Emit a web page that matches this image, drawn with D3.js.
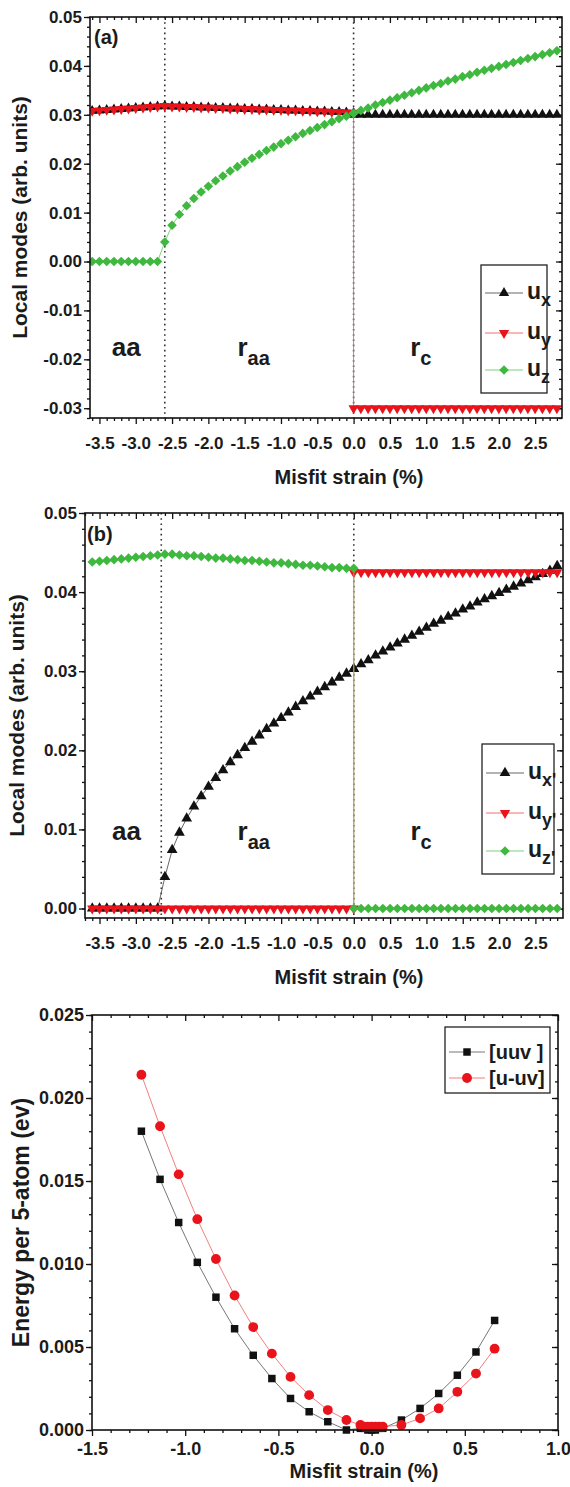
<!DOCTYPE html>
<html>
<head>
<meta charset="utf-8">
<script src="https://cdn.jsdelivr.net/npm/d3@7/dist/d3.min.js"></script>
<style>
  body { margin: 0; background: #fff; }
  svg text { font-family: "Liberation Sans", Arial, sans-serif; font-weight: bold; fill: #1b1b1b; }
</style>
</head>
<body>
<svg id="chart" width="570" height="1487"></svg>
<script>

// misfit strain (%) for panels (a) and (b); 0.0 is listed twice, once per phase branch
var strain = [-3.6, -3.5, -3.4, -3.3, -3.2, -3.1, -3.0, -2.9, -2.8, -2.7, -2.6, -2.5, -2.4,
	-2.3, -2.2, -2.1, -2.0, -1.9, -1.8, -1.7, -1.6, -1.5, -1.4, -1.3, -1.2, -1.1, -1.0, -0.9,
	-0.8, -0.7, -0.6, -0.5, -0.4, -0.3, -0.2, -0.1, 0.0,
	0.0, 0.1, 0.2, 0.3, 0.4, 0.5, 0.6, 0.7, 0.8, 0.9, 1.0, 1.1, 1.2, 1.3, 1.4, 1.5, 1.6, 1.7,
	1.8, 1.9, 2.0, 2.1, 2.2, 2.3, 2.4, 2.5, 2.6, 2.7, 2.8];

// panel (a): local modes u_x, u_y, u_z
var uxA = [0.0308, 0.0309, 0.0310, 0.0311, 0.0312, 0.0313, 0.0314, 0.0315, 0.0316, 0.0317, 0.0318,
	0.0317, 0.0317, 0.0316, 0.0316, 0.0315, 0.0315, 0.0314, 0.0314, 0.0313, 0.0313, 0.0312, 0.0312,
	0.0311, 0.0311, 0.0310, 0.0310, 0.0309, 0.0309, 0.0308, 0.0308, 0.0307, 0.0307, 0.0306, 0.0306,
	0.0305, 0.0304,
	0.0300, 0.0300, 0.0300, 0.0300, 0.0300, 0.0300, 0.0300, 0.0300, 0.0300, 0.0300, 0.0300, 0.0300,
	0.0300, 0.0300, 0.0300, 0.0300, 0.0300, 0.0300, 0.0300, 0.0300, 0.0300, 0.0300, 0.0300, 0.0300,
	0.0300, 0.0300, 0.0300, 0.0300, 0.0300];
var uyA = [0.0308, 0.0309, 0.0310, 0.0311, 0.0312, 0.0313, 0.0314, 0.0315, 0.0316, 0.0317, 0.0318,
	0.0317, 0.0317, 0.0316, 0.0316, 0.0315, 0.0315, 0.0314, 0.0314, 0.0313, 0.0313, 0.0312, 0.0312,
	0.0311, 0.0311, 0.0310, 0.0310, 0.0309, 0.0309, 0.0308, 0.0308, 0.0307, 0.0307, 0.0306, 0.0306,
	0.0305, 0.0304,
	-0.030, -0.030, -0.030, -0.030, -0.030, -0.030, -0.030, -0.030, -0.030, -0.030, -0.030, -0.030,
	-0.030, -0.030, -0.030, -0.030, -0.030, -0.030, -0.030, -0.030, -0.030, -0.030, -0.030, -0.030,
	-0.030, -0.030, -0.030, -0.030, -0.030];
var uzA = [0, 0, 0, 0, 0, 0, 0, 0, 0, 0,
	0.0040, 0.0074, 0.0096, 0.0114, 0.0129, 0.0142, 0.0154, 0.0165, 0.0175, 0.0185, 0.0194, 0.0203,
	0.0211, 0.0219, 0.0227, 0.0234, 0.0241, 0.0248, 0.0255, 0.0262, 0.0268, 0.0274, 0.0280, 0.0286,
	0.0292, 0.0297, 0.0303,
	0.0303, 0.0309, 0.0314, 0.0320, 0.0325, 0.0330, 0.0335, 0.0340, 0.0345, 0.0350, 0.0355, 0.0360,
	0.0364, 0.0369, 0.0373, 0.0378, 0.0382, 0.0387, 0.0391, 0.0395, 0.0399, 0.0403, 0.0407, 0.0411,
	0.0415, 0.0419, 0.0423, 0.0427, 0.0431];

// panel (b): rotated local modes u_x', u_y', u_z'
var uxB = [0, 0, 0, 0, 0, 0, 0, 0, 0, 0,
	0.0040, 0.0074, 0.0096, 0.0114, 0.0129, 0.0142, 0.0154, 0.0165, 0.0175, 0.0185, 0.0194, 0.0203,
	0.0211, 0.0219, 0.0227, 0.0234, 0.0241, 0.0248, 0.0255, 0.0262, 0.0268, 0.0274, 0.0280, 0.0286,
	0.0292, 0.0297, 0.0303,
	0.0303, 0.0309, 0.0314, 0.0320, 0.0325, 0.0330, 0.0335, 0.0340, 0.0345, 0.0350, 0.0355, 0.0360,
	0.0364, 0.0369, 0.0373, 0.0378, 0.0382, 0.0387, 0.0391, 0.0395, 0.0399, 0.0403, 0.0407, 0.0411,
	0.0415, 0.0419, 0.0423, 0.0427, 0.0433];
var uyB = [0, 0, 0, 0, 0, 0, 0, 0, 0, 0, 0, 0, 0, 0, 0, 0, 0, 0, 0, 0, 0, 0, 0, 0, 0, 0, 0, 0,
	0, 0, 0, 0, 0, 0, 0, 0, 0,
	0.0425, 0.0425, 0.0425, 0.0425, 0.0425, 0.0425, 0.0425, 0.0425, 0.0425, 0.0425, 0.0425, 0.0425,
	0.0425, 0.0425, 0.0425, 0.0425, 0.0425, 0.0425, 0.0425, 0.0425, 0.0425, 0.0425, 0.0425, 0.0425,
	0.0425, 0.0425, 0.0425, 0.0425, 0.0425];
var uzB = [0.0438, 0.0439, 0.0440, 0.0441, 0.0442, 0.0443, 0.0444, 0.0445, 0.0446, 0.0447, 0.0448,
	0.0448, 0.0447, 0.0446, 0.0446, 0.0445, 0.0444, 0.0443, 0.0443, 0.0442, 0.0441, 0.0440, 0.0440,
	0.0439, 0.0438, 0.0437, 0.0437, 0.0436, 0.0435, 0.0434, 0.0434, 0.0433, 0.0432, 0.0431, 0.0431,
	0.0430, 0.0430,
	0, 0, 0, 0, 0, 0, 0, 0, 0, 0, 0, 0, 0, 0, 0, 0, 0, 0, 0, 0, 0, 0, 0, 0, 0, 0, 0, 0, 0];

// panel (c): energy per 5-atom cell
var strainC = [-1.235, -1.135, -1.035, -0.935, -0.835, -0.735, -0.635, -0.535, -0.435, -0.335,
	-0.235, -0.135, -0.06, -0.04, -0.02, 0.0, 0.02, 0.04, 0.06, 0.16, 0.26, 0.36, 0.46, 0.56, 0.66];
var energyUUV = [0.0180, 0.0151, 0.0125, 0.0101, 0.0080, 0.0061, 0.0045, 0.0031, 0.0019, 0.0011,
	0.0005, 0.0000, 0.0001, 0.0001, 0.0000, 0.0000, 0.0000, 0.0001, 0.0001, 0.0006, 0.0013, 0.0022,
	0.0033, 0.0047, 0.0066];
var energyUmUV = [0.0214, 0.0183, 0.0154, 0.0127, 0.0103, 0.0081, 0.0062, 0.0046, 0.0032, 0.0021,
	0.0012, 0.0006, 0.0003, 0.0002, 0.0002, 0.0002, 0.0002, 0.0002, 0.0002, 0.0003, 0.0007, 0.0013,
	0.0023, 0.0034, 0.0049];

// tick labels
var xTicksAB = [-3.5, -3.0, -2.5, -2.0, -1.5, -1.0, -0.5, 0.0, 0.5, 1.0, 1.5, 2.0, 2.5];
var yTicksA = [-0.03, -0.02, -0.01, 0.00, 0.01, 0.02, 0.03, 0.04, 0.05];
var yTicksB = [0.00, 0.01, 0.02, 0.03, 0.04, 0.05];
var xTicksC = [-1.5, -1.0, -0.5, 0.0, 0.5, 1.0];
var yTicksC = [0.000, 0.005, 0.010, 0.015, 0.020, 0.025];

// phase boundaries (dotted lines)
var boundA = [-2.6, 0.0];
var boundB = [-2.65, 0.0];

var BLACK = "#111111", RED = "#e8131b", GREEN = "#3fb83f";

var svg = d3.select("#chart");

function zip(xs, ys) {
	return xs.map(function(d, i) { return [d, ys[i]]; });
}

// marker transform: down triangles are flipped, diamonds are squares turned 45deg
function markTurn(s) {
	if (s.flip) return " rotate(180)";
	if (s.turn) return " rotate(45)";
	return "";
}

function drawPanel(cfg) {
	var g = svg.append("g");
	var x = d3.scaleLinear().domain(cfg.xDomain).range([cfg.left, cfg.right]);
	var y = d3.scaleLinear().domain(cfg.yDomain).range([cfg.bottom, cfg.top]);

	var xMinor = cfg.xMinor.filter(function(v) { return v >= cfg.xDomain[0] && v <= cfg.xDomain[1]; });
	var yMinor = cfg.yMinor.filter(function(v) { return v >= cfg.yDomain[0] - 1e-9 && v <= cfg.yDomain[1] + 1e-9; });

	function styleAxis(a) {
		a.select(".domain").remove();
		a.selectAll("line").attr("stroke", BLACK).attr("stroke-width", 1.3);
		a.attr("font-family", null).attr("font-size", cfg.tickFont);
		a.selectAll("text").attr("fill", "#1b1b1b");
	}

	// bottom + left: labelled, ticks outwards
	g.append("g").attr("transform", "translate(0," + cfg.bottom + ")")
		.call(d3.axisBottom(x).tickValues(xMinor).tickSize(3).tickFormat(""))
		.call(styleAxis);
	g.append("g").attr("transform", "translate(0," + cfg.bottom + ")")
		.call(d3.axisBottom(x).tickValues(cfg.xTicks).tickSize(6).tickPadding(cfg.xPad)
			.tickFormat(function(d) { return d.toFixed(1); }))
		.call(styleAxis);
	g.append("g").attr("transform", "translate(" + cfg.left + ",0)")
		.call(d3.axisLeft(y).tickValues(yMinor).tickSize(3).tickFormat(""))
		.call(styleAxis);
	g.append("g").attr("transform", "translate(" + cfg.left + ",0)")
		.call(d3.axisLeft(y).tickValues(cfg.yTicks).tickSize(6).tickPadding(2)
			.tickFormat(function(d) { return d.toFixed(cfg.yDigits); }))
		.call(styleAxis);

	// top + right: mirrored, ticks inwards, no labels
	g.append("g").attr("transform", "translate(0," + cfg.top + ")")
		.call(d3.axisBottom(x).tickValues(xMinor).tickSize(3).tickFormat(""))
		.call(styleAxis);
	g.append("g").attr("transform", "translate(0," + cfg.top + ")")
		.call(d3.axisBottom(x).tickValues(cfg.xTicks).tickSize(6).tickFormat(""))
		.call(styleAxis);
	g.append("g").attr("transform", "translate(" + cfg.right + ",0)")
		.call(d3.axisLeft(y).tickValues(yMinor).tickSize(3).tickFormat(""))
		.call(styleAxis);
	g.append("g").attr("transform", "translate(" + cfg.right + ",0)")
		.call(d3.axisLeft(y).tickValues(cfg.yTicks).tickSize(6).tickFormat(""))
		.call(styleAxis);

	var clipId = "clip" + cfg.name;
	svg.append("clipPath").attr("id", clipId).append("rect")
		.attr("x", cfg.left).attr("y", cfg.top - 6)
		.attr("width", cfg.right - cfg.left).attr("height", cfg.bottom - cfg.top + 12);

	// dotted phase boundaries
	if (cfg.bounds) {
		g.selectAll(".bound").data(cfg.bounds).enter().append("line")
			.attr("x1", function(d) { return x(d); }).attr("x2", function(d) { return x(d); })
			.attr("y1", cfg.top).attr("y2", cfg.bottom)
			.attr("stroke", "#333").attr("stroke-width", 1.6)
			.attr("stroke-dasharray", "1.6,3.6");
	}

	var plot = g.append("g").attr("clip-path", "url(#" + clipId + ")");
	var line = d3.line().x(function(d) { return x(d[0]); }).y(function(d) { return y(d[1]); });

	cfg.series.forEach(function(s) {
		var pts = zip(s.xs, s.ys);
		plot.append("path").datum(pts)
			.attr("d", line).attr("fill", "none")
			.attr("stroke", s.lineColor).attr("stroke-width", 0.9);
		plot.selectAll(null).data(pts).enter().append("path")
			.attr("d", d3.symbol().type(s.symbol).size(s.size))
			.attr("transform", function(d) {
				return "translate(" + x(d[0]) + "," + y(d[1]) + ")" + markTurn(s);
			})
			.attr("fill", s.color);
	});

	g.append("rect")
		.attr("x", cfg.left).attr("y", cfg.top)
		.attr("width", cfg.right - cfg.left).attr("height", cfg.bottom - cfg.top)
		.attr("fill", "none").attr("stroke", BLACK).attr("stroke-width", 1.6);

	// axis titles
	g.append("text")
		.attr("x", cfg.xTitlePos[0]).attr("y", cfg.xTitlePos[1])
		.attr("text-anchor", "middle").attr("font-size", cfg.titleFont)
		.text("Misfit strain (%)");
	g.append("text")
		.attr("transform", "translate(" + cfg.yTitleX + "," + ((cfg.top + cfg.bottom) / 2) + ") rotate(-90)")
		.attr("text-anchor", "middle").attr("font-size", cfg.yTitleFont)
		.text(cfg.yTitle);

	// legend
	var lg = g.append("g");
	lg.append("rect")
		.attr("x", cfg.legend.box[0]).attr("y", cfg.legend.box[1])
		.attr("width", cfg.legend.box[2]).attr("height", cfg.legend.box[3])
		.attr("fill", "#fff").attr("stroke", "#222").attr("stroke-width", 1.3);
	cfg.series.forEach(function(s, i) {
		var ly = cfg.legend.rows[i], lx = cfg.legend.box[0] + 4;
		lg.append("line").attr("x1", lx).attr("x2", lx + cfg.legend.lineLen)
			.attr("y1", ly).attr("y2", ly)
			.attr("stroke", s.lineColor).attr("stroke-width", 0.9);
		lg.append("path")
			.attr("d", d3.symbol().type(s.symbol).size(s.size))
			.attr("transform", "translate(" + (lx + cfg.legend.lineLen / 2) + "," + ly + ")" + markTurn(s))
			.attr("fill", s.color);
		var t = lg.append("text")
			.attr("x", lx + cfg.legend.lineLen + 4).attr("y", ly + cfg.legend.textDy)
			.attr("font-size", cfg.legend.font);
		t.append("tspan").text(s.label);
		if (s.sub) {
			t.append("tspan").attr("dy", 7).attr("font-size", cfg.legend.font * 0.78).text(s.sub);
		}
	});

	return { x: x, y: y, g: g };
}

var gridMinor = d3.range(-37, 30).map(function(i) { return i / 10; })
	.filter(function(v) { return Math.abs(v * 2 - Math.round(v * 2)) > 1e-6; });

var pa = drawPanel({
	name: "a", left: 90, right: 562, top: 17, bottom: 418,
	xDomain: [-3.63, 2.87], yDomain: [-0.032, 0.05],
	xTicks: xTicksAB, yTicks: yTicksA, yDigits: 2,
	xMinor: gridMinor, yMinor: d3.range(-16, 26).map(function(i) { return i * 0.002; }),
	tickFont: 17, xPad: 13, titleFont: 20, yTitleFont: 21, yTitleX: 27,
	xTitlePos: [349, 484], yTitle: "Local modes (arb. units)",
	bounds: boundA,
	series: [
		{ xs: strain, ys: uxA, color: BLACK, lineColor: "#555", symbol: d3.symbolTriangle, size: 46, label: "u", sub: "x" },
		{ xs: strain, ys: uyA, color: RED, lineColor: "#f06060", symbol: d3.symbolTriangle, size: 46, flip: true, label: "u", sub: "y" },
		{ xs: strain, ys: uzA, color: GREEN, lineColor: "#6ccf6c", symbol: d3.symbolSquare, size: 46, turn: true, label: "u", sub: "z" }
	],
	legend: { box: [481, 265, 66, 128], rows: [293, 333, 370], lineLen: 38, textDy: 6, font: 23 }
});

var pb = drawPanel({
	name: "b", left: 85, right: 563, top: 513, bottom: 918,
	xDomain: [-3.70, 2.88], yDomain: [-0.0012, 0.05],
	xTicks: xTicksAB, yTicks: yTicksB, yDigits: 2,
	xMinor: gridMinor, yMinor: d3.range(0, 26).map(function(i) { return i * 0.002; }),
	tickFont: 17, xPad: 13, titleFont: 20, yTitleFont: 21, yTitleX: 24,
	xTitlePos: [349, 984], yTitle: "Local modes (arb. units)",
	bounds: boundB,
	series: [
		{ xs: strain, ys: uxB, color: BLACK, lineColor: "#555", symbol: d3.symbolTriangle, size: 50, label: "u", sub: "x'" },
		{ xs: strain, ys: uyB, color: RED, lineColor: "#f06060", symbol: d3.symbolTriangle, size: 46, flip: true, label: "u", sub: "y'" },
		{ xs: strain, ys: uzB, color: GREEN, lineColor: "#6ccf6c", symbol: d3.symbolSquare, size: 46, turn: true, label: "u", sub: "z'" }
	],
	legend: { box: [482, 744, 72, 130], rows: [773, 813, 851], lineLen: 38, textDy: 6, font: 23 }
});

var pc = drawPanel({
	name: "c", left: 92, right: 558, top: 1015, bottom: 1430,
	xDomain: [-1.5, 1.0], yDomain: [0, 0.025],
	xTicks: xTicksC, yTicks: yTicksC, yDigits: 3,
	xMinor: d3.range(-15, 11).map(function(i) { return i / 10; })
		.filter(function(v) { return Math.abs(v * 2 - Math.round(v * 2)) > 1e-6; }),
	yMinor: d3.range(0, 26).map(function(i) { return i * 0.001; }),
	tickFont: 18, xPad: 6, titleFont: 20, yTitleFont: 23, yTitleX: 29,
	xTitlePos: [364, 1478], yTitle: "Energy per 5-atom (ev)",
	series: [
		{ xs: strainC, ys: energyUUV, color: BLACK, lineColor: "#666", symbol: d3.symbolSquare, size: 56, label: "[uuv ]" },
		{ xs: strainC, ys: energyUmUV, color: RED, lineColor: "#f07070", symbol: d3.symbolCircle, size: 76, label: "[u-uv]" }
	],
	legend: { box: [445, 1027, 105, 66], rows: [1052, 1078], lineLen: 36, textDy: 7, font: 20 }
});

// panel letters
svg.append("text").attr("x", 94).attr("y", 44).attr("font-size", 20).text("(a)");
svg.append("text").attr("x", 87).attr("y", 541).attr("font-size", 20).text("(b)");

// phase names inside panels (a) and (b)
function phaseLabels(p, base) {
	p.g.append("text").attr("x", p.x(-3.13)).attr("y", base).attr("text-anchor", "middle")
		.attr("font-size", 26).text("aa");
	var r1 = p.g.append("text").attr("x", p.x(-1.6)).attr("y", base).attr("font-size", 26);
	r1.append("tspan").text("r");
	r1.append("tspan").attr("dy", 9).attr("font-size", 20).text("aa");
	var r2 = p.g.append("text").attr("x", p.x(0.78)).attr("y", base).attr("font-size", 26);
	r2.append("tspan").text("r");
	r2.append("tspan").attr("dy", 9).attr("font-size", 20).text("c");
}
phaseLabels(pa, 356);
phaseLabels(pb, 840);

</script>
</body>
</html>
